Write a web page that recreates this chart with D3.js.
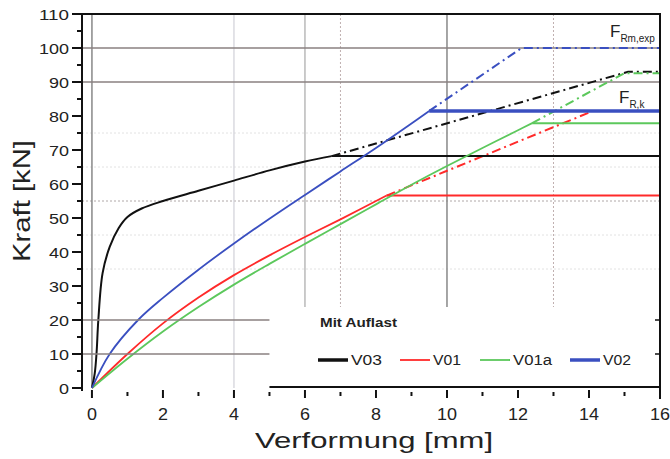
<!DOCTYPE html>
<html>
<head>
<meta charset="utf-8">
<script src="https://cdn.jsdelivr.net/npm/d3@7"></script>
<style>
  body { margin: 0; background: #fff; }
  text { font-family: "Liberation Sans", Arial, sans-serif; fill: #222; }
</style>
</head>
<body>
<div id="chart"></div>
<script>
// tick values
var xTicks = [0, 2, 4, 6, 8, 10, 12, 14, 16];
var xMinor = [1, 3, 5, 7, 9, 11, 13, 15];
var yTicks = [0, 10, 20, 30, 40, 50, 60, 70, 80, 90, 100, 110];
var yMinor = [5, 15, 25, 35, 45, 55, 65, 75, 85, 95, 105];

// measured curves (Verformung mm, Kraft kN)
var v03Rise = [[0,0],[0.08,4.4],[0.13,10.3],[0.18,20],[0.3,33.8],[0.5,41.5],[0.75,47],[1.0,50.3],[1.4,52.8],[2,55],[3,58],[4,61],[5,64],[6,66.6],[6.75,68.2]];
var v03Flat = [[6.75,68.2],[16,68.2]];
var v03Ext = [[6.75,68.2],[15.1,93],[16,93]];

var v01Rise = [[0,0],[1,10],[2,19],[3,26.6],[4,33.2],[5,39],[6,44.4],[7,49.6],[8.3,56.6]];
var v01Flat = [[8.3,56.6],[16,56.6]];
var v01Ext = [[8.3,56.6],[14,81]];

var v01aRise = [[0,0],[1,8.6],[2,16.6],[3,23.8],[4,30.4],[5,36.5],[6,42.4],[7,48.2],[8,54],[9,59.8],[10,65.3],[11,70.6],[12,75.8],[12.4,77.9]];
var v01aFlat = [[12.4,77.9],[16,77.9]];
var v01aExt = [[12.4,77.9],[15,92.6],[16,92.6]];

var v02Rise = [[0,0],[0.5,10],[1.3,20],[2,26.5],[3,34.8],[4,42.5],[5,49.8],[6,56.8],[7,63.7],[8,70.6],[9,77.8],[9.5,81.5]];
var v02Flat = [[9.5,81.5],[16,81.5]];
var v02Ext = [[9.5,81.5],[12.1,100],[16,100]];

var legendNames = ["V03", "V01", "V01a", "V02"];
var colors = ["#111111", "#ff2a2a", "#5cc85c", "#3a4fc0"];

var W = 670, H = 459;
var svg = d3.select('#chart').append('svg').attr('width', W).attr('height', H);

var x = d3.scaleLinear().domain([-0.28, 16]).range([82, 660]);
var y = d3.scaleLinear().domain([0, 110]).range([388, 14]);

// grid lines
function vline(v, y0, y1, col, w, dash) {
  svg.append('line').attr('x1', x(v)).attr('x2', x(v)).attr('y1', y0).attr('y2', y1)
    .attr('stroke', col).attr('stroke-width', w).attr('stroke-dasharray', dash || null);
}
function hline(v, x0, x1, col, w, dash) {
  svg.append('line').attr('x1', x0).attr('x2', x1).attr('y1', y(v)).attr('y2', y(v))
    .attr('stroke', col).attr('stroke-width', w).attr('stroke-dasharray', dash || null);
}
[35, 45, 65, 75].forEach(function(v){ hline(v, 82, 660, '#e2e2e2', 1, '2,2'); });
hline(55, 82, 660, '#b0a8a8', 1, '2,2');
vline(4, 14, 388, '#d0d0d8', 1.2);
vline(6, 14, 388, '#a8a8a8', 1.2);
vline(7, 14, 388, '#c0b0b0', 1, '2,2');
vline(13, 14, 388, '#c0b0b0', 1, '2,2');
vline(10, 14, 388, '#888888', 1.5);
vline(0, 14, 388, '#888888', 1.5);
hline(100, 82, 660, '#8a8080', 1.5);
hline(90, 82, 660, '#8a8080', 1.5);

// series
var line = d3.line().x(function(d){ return x(d[0]); }).y(function(d){ return y(d[1]); });
var curve = d3.line().x(function(d){ return x(d[0]); }).y(function(d){ return y(d[1]); }).curve(d3.curveCatmullRom.alpha(0.5));

var series = [
  { rise: v03Rise, flat: v03Flat, ext: v03Ext },
  { rise: v01Rise, flat: v01Flat, ext: v01Ext },
  { rise: v01aRise, flat: v01aFlat, ext: v01aExt },
  { rise: v02Rise, flat: v02Flat, ext: v02Ext }
];
series.forEach(function(s, i){
  svg.append('path').attr('d', line(s.ext)).attr('fill', 'none')
    .attr('stroke', colors[i]).attr('stroke-width', 2).attr('stroke-dasharray', '9,4,2,4');
});
series.forEach(function(s, i){
  svg.append('path').attr('d', curve(s.rise)).attr('fill', 'none')
    .attr('stroke', colors[i]).attr('stroke-width', i == 0 ? 2 : 1.8);
  svg.append('path').attr('d', line(s.flat)).attr('fill', 'none')
    .attr('stroke', colors[i]).attr('stroke-width', i == 3 ? 3.5 : 2);
});

// legend box (covers lower right part of the plot)
svg.append('rect').attr('x', x(5)).attr('y', 307).attr('width', 660 - x(5)).attr('height', 387 - 307).attr('fill', '#fff');
hline(20, 82, x(5), '#8a8080', 1.5);
hline(10, 82, x(5), '#8a8080', 1.5);
svg.append('line').attr('x1', x(5)).attr('x2', 660).attr('y1', 387).attr('y2', 387).attr('stroke', '#111').attr('stroke-width', 2);
svg.append('text').attr('x', 320).attr('y', 327).attr('font-size', 13).attr('font-weight', 'bold')
  .attr('textLength', 77).attr('lengthAdjust', 'spacingAndGlyphs').text('Mit Auflast');
var legX = [318, 400, 480, 570];
var legW = [31, 28, 39, 28];
legendNames.forEach(function(n, i){
  svg.append('line').attr('x1', legX[i]).attr('x2', legX[i] + 30).attr('y1', 360).attr('y2', 360)
    .attr('stroke', colors[i]).attr('stroke-width', (i == 0 || i == 3) ? 3.5 : 1.8);
  svg.append('text').attr('x', legX[i] + 33).attr('y', 365).attr('font-size', 14)
    .attr('textLength', legW[i]).attr('lengthAdjust', 'spacingAndGlyphs').text(n);
});

// frame
svg.append('line').attr('x1', 82).attr('x2', 661).attr('y1', 14).attr('y2', 14).attr('stroke', '#111').attr('stroke-width', 2);
svg.append('line').attr('x1', 82).attr('x2', 82).attr('y1', 13).attr('y2', 391).attr('stroke', '#111').attr('stroke-width', 2);
svg.append('line').attr('x1', 660).attr('x2', 660).attr('y1', 13).attr('y2', 399).attr('stroke', '#111').attr('stroke-width', 2);
[10, 20].forEach(function(v){
  svg.append('line').attr('x1', 655).attr('x2', 660).attr('y1', y(v)).attr('y2', y(v)).attr('stroke', '#111').attr('stroke-width', 1.5);
});

// y axis ticks and labels
yTicks.forEach(function(v){
  svg.append('line').attr('x1', 72).attr('x2', 82).attr('y1', y(v)).attr('y2', y(v)).attr('stroke', '#111').attr('stroke-width', 2);
  svg.append('text').attr('x', 69).attr('y', y(v) + 5.5).attr('text-anchor', 'end').attr('font-size', 15)
    .attr('textLength', String(v).length * 10).attr('lengthAdjust', 'spacingAndGlyphs').text(v);
});
yMinor.forEach(function(v){
  svg.append('line').attr('x1', 77).attr('x2', 82).attr('y1', y(v)).attr('y2', y(v)).attr('stroke', '#111').attr('stroke-width', 2);
});

// x axis ticks and labels
xTicks.forEach(function(v){
  svg.append('line').attr('x1', x(v)).attr('x2', x(v)).attr('y1', 390).attr('y2', 398).attr('stroke', '#111').attr('stroke-width', 2);
  svg.append('text').attr('x', x(v)).attr('y', 420).attr('text-anchor', 'middle').attr('font-size', 17)
    .attr('textLength', String(v).length * 10).attr('lengthAdjust', 'spacingAndGlyphs').text(v);
});
xMinor.forEach(function(v){
  svg.append('line').attr('x1', x(v)).attr('x2', x(v)).attr('y1', 392).attr('y2', 396).attr('stroke', '#111').attr('stroke-width', 2);
});

// axis titles
svg.append('text').attr('x', 374).attr('y', 448).attr('text-anchor', 'middle').attr('font-size', 22)
  .attr('textLength', 238).attr('lengthAdjust', 'spacingAndGlyphs').text('Verformung [mm]');
svg.append('text').attr('transform', 'translate(30,201) rotate(-90)').attr('text-anchor', 'middle').attr('font-size', 24)
  .attr('textLength', 122).attr('lengthAdjust', 'spacingAndGlyphs').text('Kraft [kN]');

// force labels
var f1 = svg.append('text').attr('x', 610).attr('y', 37).attr('font-size', 17);
f1.append('tspan').text('F');
f1.append('tspan').attr('font-size', 10).attr('dy', 5).text('Rm,exp');
var f2 = svg.append('text').attr('x', 619).attr('y', 103).attr('font-size', 17);
f2.append('tspan').text('F');
f2.append('tspan').attr('font-size', 10).attr('dy', 5).text('R,k');
</script>
</body>
</html>
